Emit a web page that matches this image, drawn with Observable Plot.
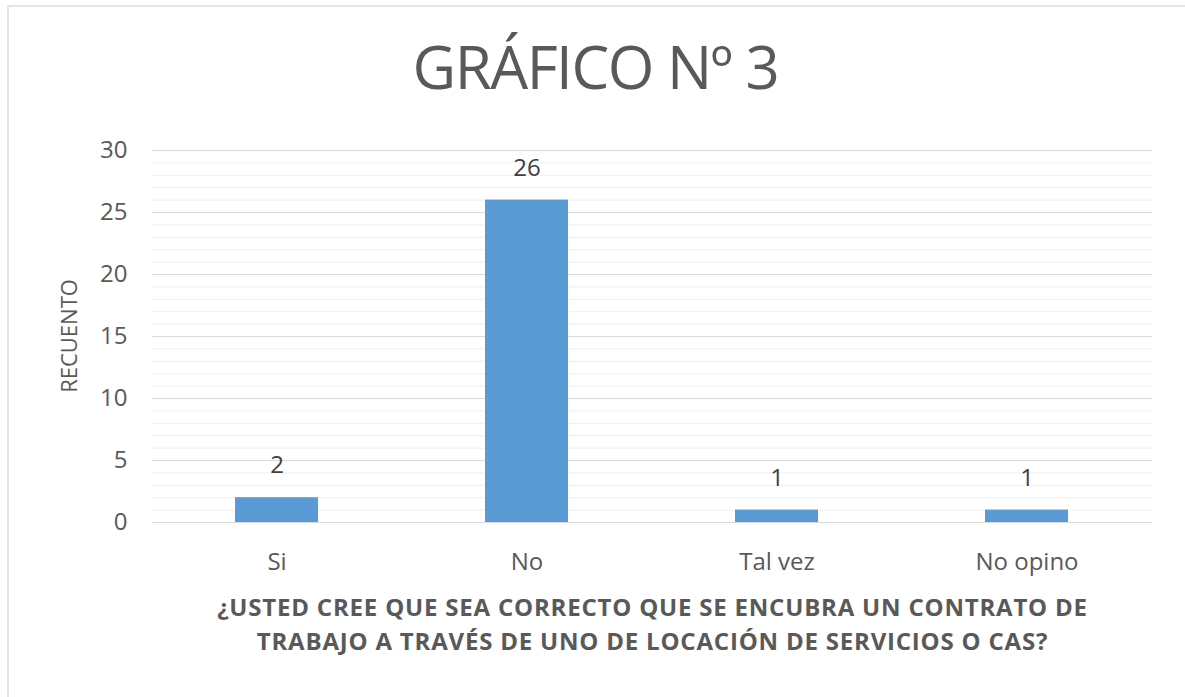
<!DOCTYPE html>
<html>
<head>
<meta charset="utf-8">
<script src="https://cdn.jsdelivr.net/npm/d3@7"></script>
<script src="https://cdn.jsdelivr.net/npm/@observablehq/plot@0.6"></script>
<style>
  html, body { margin: 0; padding: 0; background: #fff; }
  #wrap { position: relative; width: 1185px; height: 697px; overflow: hidden; font-family: "Open Sans", sans-serif; }
  #frame { position: absolute; left: 7px; top: 5px; width: 1250px; height: 760px; border: 2px solid #e4e4e4; box-sizing: border-box; }
  #title { position: relative; height: 112px; padding-top: 8px; padding-left: 6px; line-height: 116px; text-align: center; font-size: 60px; color: #595959; letter-spacing: -1.5px; }
  #chart { position: relative; height: 460px; }
  #ylabel { position: absolute; left: 68px; top: 336px; transform: translate(-50%, -50%) rotate(-90deg); font-size: 22px; color: #595959; white-space: nowrap; line-height: 1; }
  #caption { position: relative; padding-top: 10px; padding-left: 120px; line-height: 34px; text-align: center; font-size: 24px; font-weight: bold; color: #595959; letter-spacing: 0.8px; }
</style>
</head>
<body>
<div id="wrap">
  <div id="frame"></div>
  <div id="title">GRÁFICO Nº 3</div>
  <div id="chart"></div>
  <div id="ylabel"></div>
  <div id="caption">¿USTED CREE QUE SEA CORRECTO QUE SE ENCUBRA UN CONTRATO DE<br>TRABAJO A TRAVÉS DE UNO DE LOCACIÓN DE SERVICIOS O CAS?</div>
</div>
<script>
const categorias = ["Si", "No", "Tal vez", "No opino"];
const recuento = [2, 26, 1, 1];
const yTicks = [0, 5, 10, 15, 20, 25, 30];
const yLabel = "RECUENTO";

const data = categorias.map((c, i) => ({categoria: c, valor: recuento[i]}));

document.getElementById("ylabel").textContent = yLabel;

const chart = Plot.plot({
  width: 1185,
  height: 460,
  marginTop: 30,
  marginBottom: 58,
  marginLeft: 152,
  marginRight: 33,
  style: {fontFamily: "Open Sans, sans-serif", fontSize: "24px", color: "#595959", background: "transparent"},
  x: {domain: categorias, paddingInner: 0.667, paddingOuter: 0.3335, label: null},
  y: {domain: [0, 30], label: null},
  marks: [
    Plot.gridY({ticks: 30, stroke: "#efefef", strokeOpacity: 1}),
    Plot.gridY({ticks: yTicks, stroke: "#d9d9d9", strokeOpacity: 1}),
    Plot.barY(data, {x: "categoria", y: "valor", fill: "#5b9bd5"}),
    Plot.text(data, {x: "categoria", y: "valor", text: d => String(d.valor), dy: -32, fontSize: 24, fill: "#404040"}),
    Plot.axisY({ticks: yTicks, tickSize: 0, tickPadding: 25, label: null, fontSize: 24}),
    Plot.axisX({tickSize: 0, tickPadding: 30, label: null, fontSize: 24})
  ]
});
document.getElementById("chart").appendChild(chart);
</script>
</body>
</html>
